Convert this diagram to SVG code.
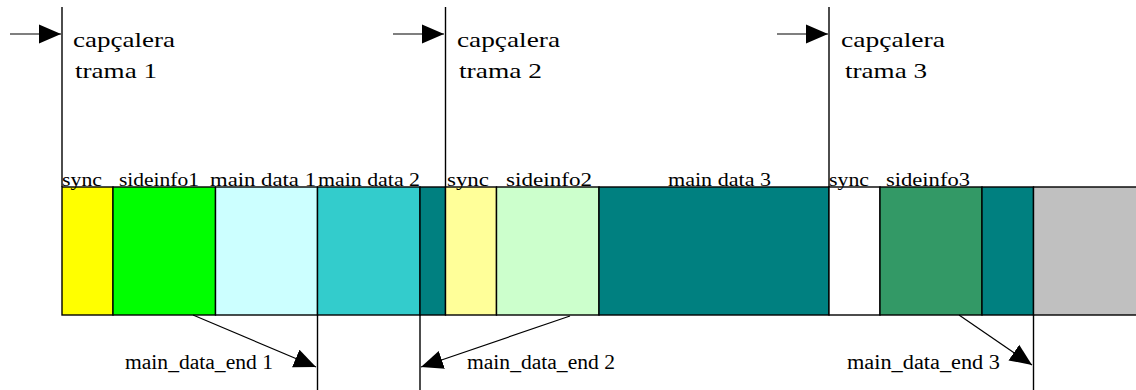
<svg xmlns="http://www.w3.org/2000/svg" width="1136" height="390" viewBox="0 0 1136 390">
  <style>
    .seg { stroke: #000; stroke-width: 1.4; }
    .line { stroke: #000; stroke-width: 1.4; fill: none; }
    .ptr { stroke: #000; stroke-width: 1.2; fill: none; marker-end: url(#head); }
    .hdr { font-family: "Liberation Serif", "Times New Roman", serif; font-size: 22px; fill: #000; }
    .lbl { font-family: "Liberation Serif", "Times New Roman", serif; font-size: 19px; fill: #000; }
    .end { font-family: "Liberation Serif", "Times New Roman", serif; font-size: 20px; fill: #000; }
  </style>
  <defs>
    <marker id="head" markerUnits="userSpaceOnUse" markerWidth="23" markerHeight="20" refX="22" refY="10" orient="auto">
      <path d="M0,0.5 L22,10 L0,19.5 Z" fill="#000"/>
    </marker>
  </defs>
  <rect width="1136" height="390" fill="#fff"/>

  <!-- bitstream segments -->
  <g id="frame1-sync"><rect class="seg" x="62" y="187" width="51" height="128" fill="#FFFF00"/><text class="lbl" x="62" y="186" textLength="40" lengthAdjust="spacingAndGlyphs">sync</text></g>
  <g id="frame1-sideinfo"><rect class="seg" x="113" y="187" width="102.5" height="128" fill="#00FF00"/><text class="lbl" x="119" y="186" textLength="80" lengthAdjust="spacingAndGlyphs">sideinfo1</text></g>
  <g id="main-data-1"><rect class="seg" x="215.5" y="187" width="102" height="128" fill="#CCFFFF"/><text class="lbl" x="210" y="186" textLength="106" lengthAdjust="spacingAndGlyphs">main data 1</text></g>
  <g id="main-data-2"><rect class="seg" x="317.5" y="187" width="102.5" height="128" fill="#33CCCC"/><text class="lbl" x="318" y="186" textLength="102" lengthAdjust="spacingAndGlyphs">main data 2</text></g>
  <g id="main-data-3a"><rect class="seg" x="420" y="187" width="25.5" height="128" fill="#008080"/></g>
  <g id="frame2-sync"><rect class="seg" x="445.5" y="187" width="51" height="128" fill="#FFFF99"/><text class="lbl" x="447" y="186" textLength="42" lengthAdjust="spacingAndGlyphs">sync</text></g>
  <g id="frame2-sideinfo"><rect class="seg" x="496.5" y="187" width="102.5" height="128" fill="#CCFFCC"/><text class="lbl" x="506" y="186" textLength="86" lengthAdjust="spacingAndGlyphs">sideinfo2</text></g>
  <g id="main-data-3b"><rect class="seg" x="599" y="187" width="230" height="128" fill="#008080"/><text class="lbl" x="668" y="186" textLength="103" lengthAdjust="spacingAndGlyphs">main data 3</text></g>
  <g id="frame3-sync"><rect class="seg" x="829" y="187" width="51" height="128" fill="#FFFFFF"/><text class="lbl" x="829" y="186" textLength="40" lengthAdjust="spacingAndGlyphs">sync</text></g>
  <g id="frame3-sideinfo"><rect class="seg" x="880" y="187" width="102" height="128" fill="#339966"/><text class="lbl" x="886" y="186" textLength="84" lengthAdjust="spacingAndGlyphs">sideinfo3</text></g>
  <g id="main-data-3c"><rect class="seg" x="982" y="187" width="51.5" height="128" fill="#008080"/></g>
  <g id="free-space"><rect class="seg" x="1033.5" y="187" width="104" height="128" fill="#C0C0C0"/></g>

  <!-- frame header markers -->
  <g id="header1">
    <text class="hdr" x="73" y="47" textLength="102" lengthAdjust="spacingAndGlyphs">capçalera</text>
    <text class="hdr" x="75" y="78" textLength="82" lengthAdjust="spacingAndGlyphs">trama 1</text>
  </g>
  <g id="header2">
    <text class="hdr" x="457" y="47" textLength="103" lengthAdjust="spacingAndGlyphs">capçalera</text>
    <text class="hdr" x="459" y="78" textLength="83" lengthAdjust="spacingAndGlyphs">trama 2</text>
  </g>
  <g id="header3">
    <text class="hdr" x="841" y="47" textLength="104" lengthAdjust="spacingAndGlyphs">capçalera</text>
    <text class="hdr" x="845" y="78" textLength="82" lengthAdjust="spacingAndGlyphs">trama 3</text>
  </g>

  <!-- main_data_end labels -->
  <g id="end1"><text class="end" x="125" y="369" textLength="148" lengthAdjust="spacingAndGlyphs">main_data_end 1</text></g>
  <g id="end2"><text class="end" x="467" y="369" textLength="148" lengthAdjust="spacingAndGlyphs">main_data_end 2</text></g>
  <g id="end3"><text class="end" x="847" y="369" textLength="153" lengthAdjust="spacingAndGlyphs">main_data_end 3</text></g>

  <!-- connectors -->
  <g id="connectors">
    <line class="line" x1="62" y1="7" x2="62" y2="187"/>
    <line class="line" x1="445.5" y1="7" x2="445.5" y2="187"/>
    <line class="line" x1="829" y1="7" x2="829" y2="187"/>
    <line class="ptr" x1="10" y1="34" x2="61" y2="34"/>
    <line class="ptr" x1="393" y1="34" x2="444" y2="34"/>
    <line class="ptr" x1="777" y1="34" x2="828" y2="34"/>
    <line class="line" x1="317.5" y1="315" x2="317.5" y2="390"/>
    <line class="line" x1="420" y1="315" x2="420" y2="390"/>
    <line class="line" x1="1033.5" y1="315" x2="1033.5" y2="390"/>
    <line class="ptr" x1="193" y1="315" x2="316" y2="367"/>
    <line class="ptr" x1="570" y1="316" x2="421" y2="367"/>
    <line class="ptr" x1="959" y1="315" x2="1032" y2="365"/>
  </g>
</svg>
